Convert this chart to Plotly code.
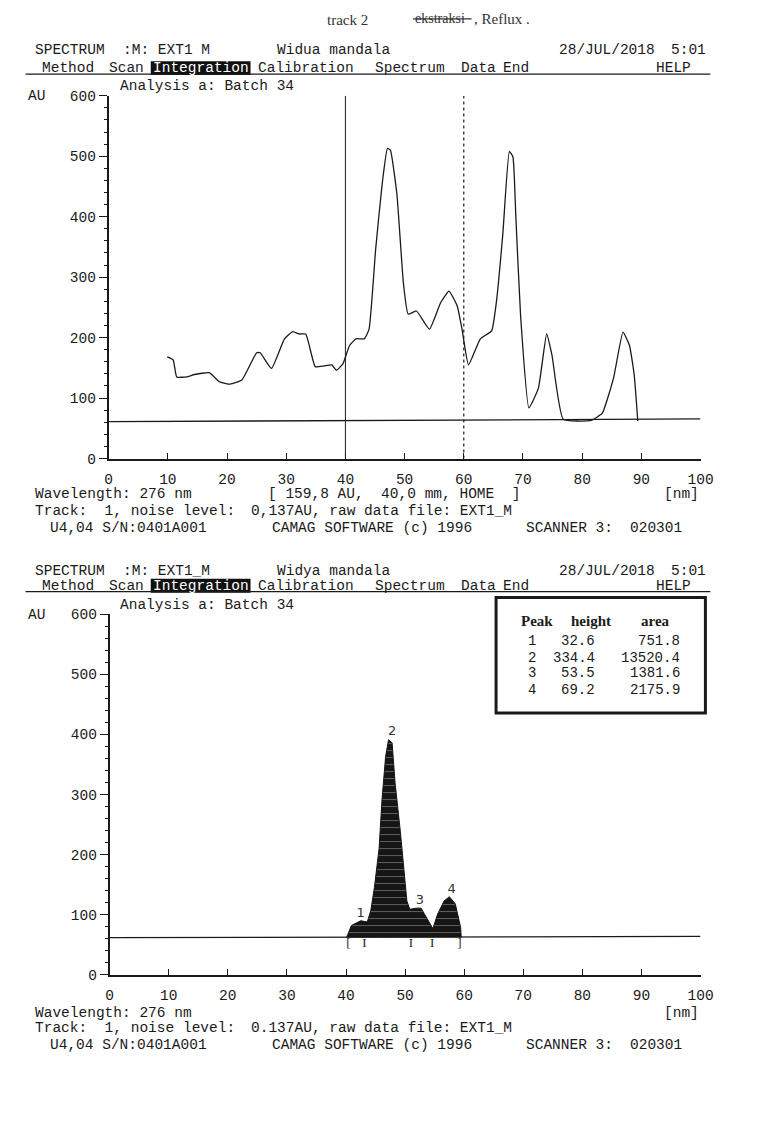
import plotly.graph_objects as go

W, H = 782, 1137
MONO = "Liberation Mono"
SERIF = "Liberation Serif"
INK = "#1a1a1a"
FS = 14.5

# ---------------- data ----------------
# top densitogram (Track scan, AU vs mm)
top_x = [9.9, 10.9, 11.5, 13.2, 14.5, 17.0, 18.7, 20.3, 22.5, 25.0, 25.6, 27.5, 29.7, 31.1,
         32.2, 33.3, 34.9, 36.3, 37.7, 38.5, 39.6, 40.7, 41.8, 43.2, 44.0, 45.1, 46.2, 47.1,
         47.6, 48.7, 49.8, 50.6, 52.0, 54.2, 56.1, 57.5, 58.9, 59.7, 60.8, 62.8, 64.7, 65.5,
         66.6, 67.7, 68.3, 68.8, 69.6, 71.0, 72.6, 74.0, 74.9, 76.8, 81.5, 83.4, 85.3, 86.9,
         88.0, 88.8, 89.4]
top_y = [168, 163, 135, 135, 139, 142, 127, 123, 130, 175, 175, 149, 198, 210,
         206, 206, 152, 153, 155, 146, 157, 187, 198, 198, 214, 345, 453, 513,
         510, 437, 290, 239, 244, 214, 258, 277, 252, 214, 155, 198, 211, 258,
         372, 508, 499, 399, 236, 84, 116, 206, 171, 65, 63, 75, 133, 209,
         187, 138, 62]
top_base_x = [0, 100]
top_base_y = [61, 65.5]
top_markers = [40, 60]          # solid and dotted vertical markers (mm)

# bottom integrated peaks
bot_x = [40.1, 40.9, 42.5, 43.6, 44.2, 44.8, 45.6, 46.1, 46.7, 47.2, 47.8, 48.3, 49.2,
         49.7, 50.3, 50.8, 51.9, 52.7, 53.6, 54.7, 55.5, 56.6, 57.5, 58.5, 59.4, 59.5]
bot_y = [62, 82, 90, 88, 107, 145, 210, 292, 363, 391, 386, 320, 238,
         183, 123, 109, 111, 111, 96, 77, 101, 123, 130, 118, 79, 62]
bot_base_x = [0, 100]
bot_base_y = [62, 64]
peak_label_x = [42.5, 47.8, 52.5, 57.9]
peak_label_y = [101, 404, 123, 142]
peak_ids = [1, 2, 3, 4]
peak_heights = [32.6, 334.4, 53.5, 69.2]
peak_areas = [751.8, 13520.4, 1381.6, 2175.9]
bound_x = [40.4, 43.1, 51.0, 54.6, 59.2]
bound_sym = ["[", "I", "I", "I", "]"]
bound_y = 52

x_ticks = list(range(0, 101, 10))
y_ticks = list(range(0, 601, 100))

# ---------------- figure ----------------
fig = go.Figure()

# top chart
fig.add_trace(go.Scatter(x=top_x, y=top_y, mode="lines", xaxis="x", yaxis="y",
                         line=dict(color=INK, width=1.3, shape="spline", smoothing=0.4)))
fig.add_trace(go.Scatter(x=top_base_x, y=top_base_y, mode="lines", xaxis="x", yaxis="y",
                         line=dict(color=INK, width=1.3)))
fig.add_trace(go.Scatter(x=[top_markers[0]] * 2, y=[0, 600], mode="lines", xaxis="x", yaxis="y",
                         line=dict(color=INK, width=1)))
fig.add_trace(go.Scatter(x=[top_markers[1]] * 2, y=[0, 600], mode="lines", xaxis="x", yaxis="y",
                         line=dict(color=INK, width=1.2, dash="dot")))

# bottom chart
fig.add_trace(go.Scatter(x=bot_base_x, y=bot_base_y, mode="lines", xaxis="x2", yaxis="y2",
                         line=dict(color=INK, width=1.3)))
fig.add_trace(go.Scatter(x=bot_x, y=bot_y, mode="lines", fill="toself", fillcolor="#141414",
                         fillpattern=dict(shape="-", bgcolor="#151515", fgcolor="#a8a8a8",
                                          size=7, solidity=0.15),
                         xaxis="x2", yaxis="y2", line=dict(color="#141414", width=1)))
fig.add_trace(go.Scatter(x=peak_label_x, y=peak_label_y, mode="text", xaxis="x2", yaxis="y2",
                         text=[str(p) for p in peak_ids],
                         textfont=dict(family="DejaVu Sans", size=13, color="#333")))
fig.add_trace(go.Scatter(x=bound_x, y=[bound_y] * len(bound_x), mode="text", xaxis="x2", yaxis="y2",
                         text=bound_sym, textfont=dict(family=SERIF, size=13, color=INK)))

axis_common = dict(showline=True, linecolor=INK, linewidth=1.6, showgrid=False, zeroline=False,
                   tickfont=dict(family=MONO, size=FS, color=INK), tickcolor=INK)
xcommon = dict(axis_common, range=[0, 100], tickvals=x_ticks, ticks="inside", ticklen=6,
               ticklabelstandoff=6)
ycommon = dict(axis_common, range=[0, 600], tickvals=y_ticks, ticks="outside", ticklen=8,
               minor=dict(dtick=20, ticks="outside", ticklen=3, tickcolor=INK))

fig.update_layout(
    width=W, height=H, margin=dict(l=0, r=0, t=0, b=0),
    paper_bgcolor="white", plot_bgcolor="white", showlegend=False,
    xaxis=dict(xcommon, domain=[107 / W, 712 / W], anchor="y"),
    yaxis=dict(ycommon, domain=[1 - 458 / H, 1 - 90 / H], anchor="x"),
    xaxis2=dict(xcommon, domain=[108 / W, 712 / W], anchor="y2"),
    yaxis2=dict(ycommon, domain=[1 - 981.7 / H, 1 - 615.7 / H], anchor="x2"),
)

ann = []
shapes = []


def txt(s, px, py, size=FS, color=INK, family=MONO, xanchor="left", bold=False):
    s = s.replace(" ", "\u00a0")
    if bold:
        s = "<b>" + s + "</b>"
    ann.append(dict(text=s, x=px / W, y=1 - py / H, xref="paper", yref="paper",
                    xanchor=xanchor, yanchor="middle", showarrow=False,
                    font=dict(family=family, size=size, color=color)))


def hline(x0, x1, py, width=1.2, color=INK):
    shapes.append(dict(type="line", xref="paper", yref="paper", x0=x0 / W, x1=x1 / W,
                       y0=1 - py / H, y1=1 - py / H, line=dict(color=color, width=width)))


def header(y_title, y_menu, y_rule, mfile, lab):
    txt("SPECTRUM", 30, y_title)
    txt(mfile, 120, y_title)
    txt(lab, 277, y_title)
    txt("28/JUL/2018", 668, y_title, xanchor="right")
    txt("5:01", 720, y_title, xanchor="right")
    txt("Method", 37, y_menu)
    txt("Scan", 105, y_menu)
    shapes.append(dict(type="rect", xref="paper", yref="paper", x0=150 / W, x1=252 / W,
                       y0=1 - (y_menu + 7) / H, y1=1 - (y_menu - 7) / H,
                       fillcolor="#111", line=dict(width=0)))
    txt("Integration", 201, y_menu, color="white", xanchor="center")
    txt("Calibration", 258, y_menu)
    txt("Spectrum", 377, y_menu)
    txt("Data", 465, y_menu)
    txt("End", 508, y_menu)
    txt("HELP", 704, y_menu, xanchor="right")
    hline(22, 722, y_rule)


def footer(y1, y2, y3, noise, coords):
    txt("Wavelength: 276 nm", 30, y1)
    if coords:
        txt("[ 159,8 AU,  40,0 mm, HOME  ]", 268, y1)
    txt("[nm]", 712, y1, xanchor="right")
    txt("Track:  1, noise level:", 30, y2)
    txt(noise + ", raw data file: EXT1_M", 250, y2)
    txt("U4,04 S/N:0401A001", 45, y3)
    txt("CAMAG SOFTWARE (c) 1996", 272, y3)
    txt("SCANNER 3:", 532, y3)
    txt("020301", 638, y3)


# handwritten notes
txt("track 2", 328, 13, size=15, family=SERIF, color="#333")
txt("ekstraksi", 418, 12, size=14, family=SERIF, color="#333")
hline(418, 478, 12, width=1.3, color="#333")
txt(", Reflux .", 478, 12, size=15, family=SERIF, color="#333")

# top block
header(44, 62, 68, ":M: EXT1 M", "Widua mandala")
txt("AU", 22, 90)
txt("Analysis a: Batch 34", 117, 80)
footer(494, 511, 528, "0,137AU", True)

# bottom block
header(572, 587, 593, ":M: EXT1_M", "Widya mandala")
txt("AU", 22, 617)
txt("Analysis a: Batch 34", 117, 607)
footer(1020, 1036, 1053, "0.137AU", False)

# peak table
shapes.append(dict(type="rect", xref="paper", yref="paper", x0=503 / W, x1=717 / W,
                   y0=1 - 716 / H, y1=1 - 599 / H, line=dict(color=INK, width=3)))
txt("Peak", 526, 623, size=15, family=SERIF, bold=True)
txt("height", 578, 623, size=15, family=SERIF, bold=True)
txt("area", 649, 623, size=15, family=SERIF, bold=True)
row_y = [643, 660, 676, 693]
for pid, h, a, ry in zip(peak_ids, peak_heights, peak_areas, row_y):
    txt(str(pid), 540, ry, size=14, xanchor="center")
    txt(f"{h:.1f}", 606, ry, size=14, xanchor="right")
    txt(f"{a:.1f}", 693, ry, size=14, xanchor="right")

fig.update_layout(annotations=ann, shapes=shapes)
fig.write_html("out.html", config={"displayModeBar": False},
               post_script="document.body.style.margin='0px';document.body.style.overflow='hidden';")
